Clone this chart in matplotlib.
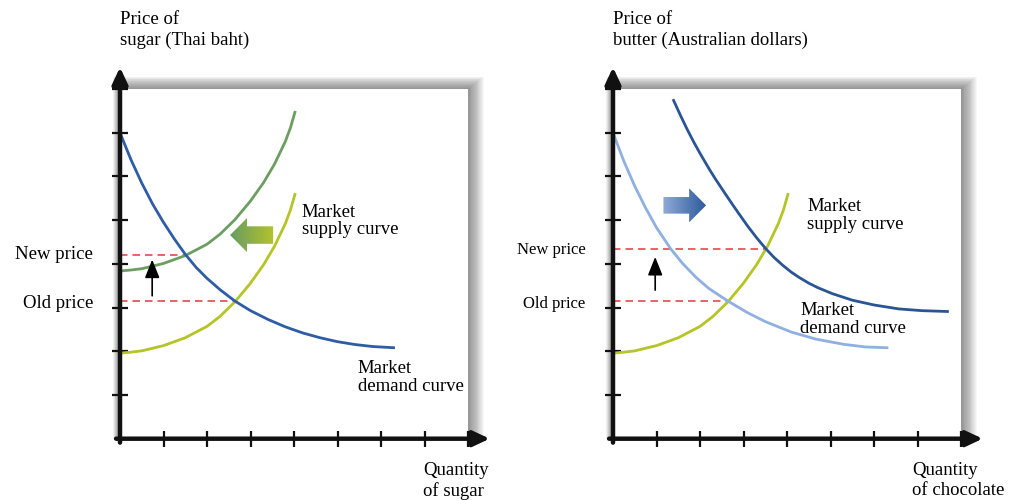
import numpy as np
import matplotlib.pyplot as plt
from matplotlib.patches import Rectangle, Polygon
from matplotlib.colors import LinearSegmentedColormap

plt.rcParams['font.family'] = ['Liberation Serif', 'DejaVu Serif']

# --- sugar market (left) ---
sugar_demand_x = [0, 0.25, 0.5, 0.75, 1.0, 1.25, 1.5, 1.75, 2.0, 2.3, 2.64, 3.0, 3.4, 3.8,
                  4.2, 4.6, 5.0, 5.4, 5.8, 6.32]
sugar_demand_y = [7.0, 6.39, 5.85, 5.37, 4.95, 4.57, 4.22, 3.92, 3.67, 3.41, 3.15, 2.93, 2.73, 2.56,
                  2.42, 2.31, 2.22, 2.155, 2.11, 2.08]
sugar_supply_x = [0.02, 0.25, 0.5, 1.0, 1.5, 2.0, 2.3, 2.64, 3.0, 3.3, 3.55, 3.8, 3.92, 4.03]
sugar_supply_old_y = [1.96, 1.98, 2.01, 2.13, 2.31, 2.57, 2.80, 3.13, 3.56, 3.98, 4.40, 4.92, 5.24, 5.62]
sugar_supply_new_y = [3.84, 3.86, 3.89, 4.01, 4.19, 4.45, 4.68, 5.01, 5.44, 5.86, 6.28, 6.80, 7.12, 7.50]
sugar_old_price, sugar_old_qty = 3.14, 2.64
sugar_new_price, sugar_new_qty = 4.2, 1.5

# --- chocolate market (right) ---
choc_demand_old_x = [0, 0.25, 0.5, 0.75, 1.0, 1.33, 1.6, 1.9, 2.2, 2.64, 3.1, 3.5, 4.1, 4.66,
                     5.3, 5.8, 6.33]
choc_demand_old_y = [7.0, 6.35, 5.78, 5.28, 4.83, 4.34, 4.01, 3.70, 3.44, 3.15, 2.88, 2.68, 2.44, 2.28,
                     2.16, 2.10, 2.08]
choc_demand_new_x = [1.38, 1.55, 1.7, 1.85, 2.0, 2.2, 2.35, 2.55, 2.74, 2.9, 3.1, 3.3, 3.51, 3.7,
                     3.9, 4.1, 4.28, 4.5, 4.7, 5.04, 5.5, 6.0, 6.57, 7.1, 7.72]
choc_demand_new_y = [7.77, 7.40, 7.09, 6.80, 6.53, 6.19, 5.95, 5.65, 5.37, 5.14, 4.86, 4.60, 4.35, 4.15,
                     3.97, 3.81, 3.69, 3.56, 3.46, 3.32, 3.17, 3.06, 2.97, 2.93, 2.91]
choc_supply_x = [0.02, 0.25, 0.5, 1.0, 1.5, 2.0, 2.3, 2.64, 3.0, 3.3, 3.55, 3.8, 3.92, 4.03]
choc_supply_y = [1.96, 1.98, 2.01, 2.13, 2.31, 2.57, 2.80, 3.13, 3.56, 3.98, 4.40, 4.92, 5.24, 5.62]
choc_old_price, choc_old_qty = 3.14, 2.64
choc_new_price, choc_new_qty = 4.34, 3.52

ticks = [1, 2, 3, 4, 5, 6, 7, 8]

W, H = 1021, 500
SX, SY = 43.5, 43.7   # pixels per tick
Y0 = 438.7            # pixel row of the x axis
LIM = 8.5

fig = plt.figure(figsize=(W / 100, H / 100), dpi=100)


def panel(x0):
    ax = fig.add_axes([x0 / W, (H - Y0) / H, LIM * SX / W, LIM * SY / H])
    ax.set_frame_on(False)
    # soft shadow round the white square (stronger on top and right)
    for d in np.linspace(0.36, 0.02, 18):
        ax.add_patch(Rectangle((-0.45 * d, 0), 8 + 1.45 * d, 8 + 0.8 * d, color='#4a4a4a',
                               alpha=0.042, lw=0, zorder=0, clip_on=False))
    ax.add_patch(Rectangle((0, 0), 8, 8, color='white', lw=0, zorder=0.5))
    # axes with arrow heads
    style = '-|>,head_length=0.9,head_width=0.42'
    ax.annotate('', xy=(0, LIM), xytext=(0, -0.09), annotation_clip=False,
                arrowprops=dict(arrowstyle=style, mutation_scale=11, lw=3.2, color='#111111',
                                shrinkA=0, shrinkB=0), zorder=5)
    ax.annotate('', xy=(LIM, 0), xytext=(-0.09, 0), annotation_clip=False,
                arrowprops=dict(arrowstyle=style, mutation_scale=11, lw=3.2, color='#111111',
                                shrinkA=0, shrinkB=0), zorder=5)
    ax.set_xticks(ticks)
    ax.set_yticks(ticks)
    ax.tick_params(direction='inout', length=11, width=1.6, color='#111111',
                   labelbottom=False, labelleft=False)
    return ax


def grad_arrow(ax, verts, c_left, c_right):
    poly = Polygon(verts, closed=True, fc='none', ec='none')
    ax.add_patch(poly)
    xs = [v[0] for v in verts]
    ys = [v[1] for v in verts]
    cmap = LinearSegmentedColormap.from_list('arr', [c_left, c_right])
    im = ax.imshow(np.linspace(0, 1, 256).reshape(1, -1), cmap=cmap, aspect='auto',
                   extent=[min(xs), max(xs), min(ys), max(ys)], zorder=3)
    im.set_clip_path(poly)


red = '#e8474c'
yellow = '#b5c427'
fs = 13.5
curve = dict(lw=2.0, zorder=3, solid_joinstyle='round', solid_capstyle='butt')

# ---------------- left panel ----------------
ax1 = panel(120)
ax1.plot([0, sugar_new_qty], [sugar_new_price] * 2, color=red, lw=1.2, dashes=(4.5, 3), zorder=2)
ax1.plot([0, sugar_old_qty], [sugar_old_price] * 2, color=red, lw=1.2, dashes=(4.5, 3), zorder=2)
ax1.plot(sugar_supply_x, sugar_supply_old_y, color=yellow, **curve)
ax1.plot(sugar_supply_x, sugar_supply_new_y, color='#6c9e61', **curve)
ax1.plot(sugar_demand_x, sugar_demand_y, color='#2e5ca6', **curve)
ax1.annotate('', xy=(0.74, 4.1), xytext=(0.74, 3.27),
             arrowprops=dict(arrowstyle='-|>,head_length=0.8,head_width=0.32', mutation_scale=14,
                             lw=1.2, color='black', shrinkA=0, shrinkB=0))
grad_arrow(ax1, [(2.53, 4.66), (2.92, 5.05), (2.92, 4.86), (3.52, 4.86),
                 (3.52, 4.46), (2.92, 4.46), (2.92, 4.27)], '#679c62', '#b3c32a')

ax1.text(-0.62, 4.11, 'New price', ha='right', va='baseline', fontsize=fs)
ax1.text(-0.62, 3.0, 'Old price', ha='right', va='baseline', fontsize=fs)
ax1.text(4.18, 4.68, 'Market\nsupply curve', ha='left', va='baseline', fontsize=fs, linespacing=1.05)
ax1.text(5.46, 1.09, 'Market\ndemand curve', ha='left', va='baseline', fontsize=fs, linespacing=1.05)
ax1.text(6.96, -1.31, 'Quantity\nof sugar', ha='left', va='baseline', fontsize=fs, linespacing=1.2)
ax1.text(0.0, 9.02, 'Price of\nsugar (Thai baht)', ha='left', va='baseline', fontsize=fs,
         linespacing=1.25)
ax1.set_xlim(0, LIM)
ax1.set_ylim(0, LIM)

# ---------------- right panel ----------------
ax2 = panel(613)
ax2.plot([0, choc_new_qty], [choc_new_price] * 2, color=red, lw=1.2, dashes=(4.5, 3), zorder=2)
ax2.plot([0, choc_old_qty], [choc_old_price] * 2, color=red, lw=1.2, dashes=(4.5, 3), zorder=2)
ax2.plot(choc_supply_x, choc_supply_y, color=yellow, **curve)
ax2.plot(choc_demand_old_x, choc_demand_old_y, color='#8fb0e0', **curve)
ax2.plot(choc_demand_new_x, choc_demand_new_y, color='#2a5595', **curve)
ax2.annotate('', xy=(0.97, 4.16), xytext=(0.97, 3.40),
             arrowprops=dict(arrowstyle='-|>,head_length=0.8,head_width=0.32', mutation_scale=14,
                             lw=1.2, color='black', shrinkA=0, shrinkB=0))
grad_arrow(ax2, [(2.14, 5.34), (1.75, 5.73), (1.75, 5.53), (1.16, 5.53),
                 (1.16, 5.15), (1.75, 5.15), (1.75, 4.95)], '#90aad9', '#2c5a9c')

ax2.text(-0.63, 4.23, 'New price', ha='right', va='baseline', fontsize=12)
ax2.text(-0.63, 2.99, 'Old price', ha='right', va='baseline', fontsize=12)
ax2.text(4.47, 4.81, 'Market\nsupply curve', ha='left', va='baseline', fontsize=fs, linespacing=1.05)
ax2.text(4.31, 2.43, 'Market\ndemand curve', ha='left', va='baseline', fontsize=fs, linespacing=1.05)
ax2.text(6.88, -1.29, 'Quantity\nof chocolate', ha='left', va='baseline', fontsize=fs, linespacing=1.2)
ax2.text(0.0, 9.02, 'Price of\nbutter (Australian dollars)', ha='left', va='baseline', fontsize=fs,
         linespacing=1.25)
ax2.set_xlim(0, LIM)
ax2.set_ylim(0, LIM)

fig.savefig('out.png', dpi=100, facecolor='white')
